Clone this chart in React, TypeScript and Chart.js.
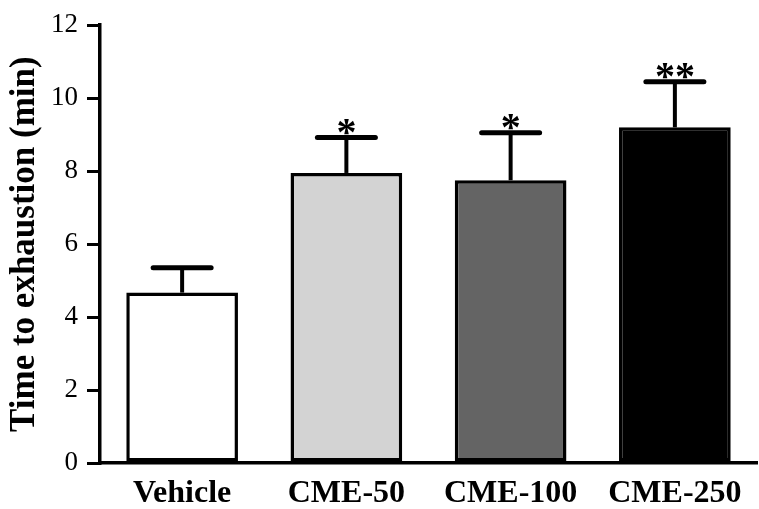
import React, { useEffect, useRef } from "react";
import { Chart, registerables } from "chart.js";

Chart.register(...registerables);

const categories = ["Vehicle", "CME-50", "CME-100", "CME-250"];
const means = [4.67, 7.95, 7.75, 9.2];
const errorTops = [5.35, 8.92, 9.05, 10.45];
const significance = ["", "*", "*", "**"];
const barColors = ["#ffffff", "#d3d3d3", "#646464", "#000000"];
const yTicks = [0, 2, 4, 6, 8, 10, 12];

const SERIF = "'Liberation Serif', 'Times New Roman', serif";

const errorBarPlugin = {
  id: "errorBars",
  afterDatasetsDraw(chart: any) {
    const ctx = chart.ctx;
    const meta = chart.getDatasetMeta(0);
    const y = chart.scales.y;
    ctx.save();
    ctx.strokeStyle = "#000";
    ctx.fillStyle = "#000";
    meta.data.forEach((bar: any, i: number) => {
      const x = bar.x;
      const top = y.getPixelForValue(means[i]);
      const up = y.getPixelForValue(errorTops[i]);
      ctx.lineWidth = 4;
      ctx.beginPath();
      ctx.moveTo(x, top);
      ctx.lineTo(x, up);
      ctx.stroke();
      ctx.lineWidth = 5;
      ctx.lineCap = "round";
      ctx.beginPath();
      ctx.moveTo(x - 29, up);
      ctx.lineTo(x + 29, up);
      ctx.stroke();
      ctx.lineCap = "butt";
      if (significance[i]) {
        ctx.font = `bold 40px ${SERIF}`;
        ctx.textAlign = "center";
        ctx.textBaseline = "alphabetic";
        ctx.fillText(significance[i], x, up + 7);
      }
    });
    ctx.restore();
  },
};

export default function App() {
  const ref = useRef<HTMLCanvasElement | null>(null);
  useEffect(() => {
    document.body.style.margin = "0";
    const chart = new Chart(ref.current as HTMLCanvasElement, {
      type: "bar",
      data: {
        labels: categories,
        datasets: [
          {
            data: means,
            backgroundColor: barColors,
            borderColor: "#000",
            borderWidth: 3.5,
            borderSkipped: false,
            barPercentage: 0.68,
            categoryPercentage: 1,
          },
        ],
      },
      options: {
        animation: false,
        responsive: false,
        maintainAspectRatio: false,
        layout: { padding: { top: 21, right: 2, left: 0, bottom: 0 } },
        plugins: {
          legend: { display: false },
          tooltip: { enabled: false },
        },
        scales: {
          x: {
            grid: { display: false, drawTicks: false },
            border: { display: true, color: "#000", width: 3.5 },
            ticks: {
              color: "#000",
              padding: 12,
              font: { family: SERIF, size: 32, weight: "bold" },
            },
            afterFit(scale: any) {
              scale.height = 46;
            },
          },
          y: {
            min: 0,
            max: 12,
            afterBuildTicks(scale: any) {
              scale.ticks = yTicks.map((v) => ({ value: v }));
            },
            grid: {
              drawOnChartArea: false,
              drawTicks: true,
              tickLength: 13,
              color: "#000",
              lineWidth: 3,
            },
            border: { display: true, color: "#000", width: 3.5 },
            ticks: {
              color: "#000",
              padding: 9,
              font: { family: SERIF, size: 27 },
            },
            title: {
              display: true,
              text: "Time to exhaustion (min)",
              color: "#000",
              padding: { top: 4, bottom: 0 },
              font: { family: SERIF, size: 35, weight: "bold" },
            },
            afterFit(scale: any) {
              scale.width = 100;
            },
          },
        },
      },
      plugins: [errorBarPlugin],
    } as any);
    return () => chart.destroy();
  }, []);
  return (
    <div style={{ position: "absolute", left: 0, top: 0, width: 759, height: 509, background: "#fff" }}>
      <canvas ref={ref} width={759} height={509} />
    </div>
  );
}
